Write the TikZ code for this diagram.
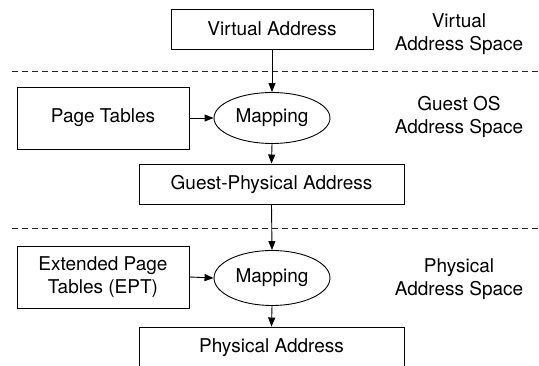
\documentclass[tikz,border=0pt]{standalone}
\usepackage{fontspec}
\setmainfont{TeX Gyre Heros}
\usetikzlibrary{shapes.geometric,arrows.meta}
\begin{document}
\begin{tikzpicture}[x=1pt,y=-1pt,
  txt/.style={font=\fontsize{19}{23}\selectfont},
  box/.style={txt, draw, line width=0.9pt, inner sep=0pt, align=center},
  ell/.style={txt, draw, ellipse, line width=0.9pt, inner sep=0pt, minimum width=116pt},
  lbl/.style={txt, align=center, inner sep=0pt},
  arr/.style={-{Triangle[length=9pt,width=7pt]}, line width=0.9pt},
  sep/.style={dash pattern=on 6pt off 4pt, line width=0.9pt, draw=black!85}]
\useasboundingbox (0,0) rectangle (539,366);
% nodes
\node[box, minimum width=202pt, minimum height=40pt] (va) at (272,29) {Virtual Address};
\node[box, minimum width=172pt, minimum height=62pt] (pt) at (103,118) {Page Tables};
\node[ell, minimum height=51pt] (m1) at (272,118) {Mapping};
\node[box, minimum width=265pt, minimum height=40pt] (gpa) at (271.5,184) {Guest-Physical Address};
\node[box, minimum width=172pt, minimum height=62pt] (ept) at (103,277) {Extended Page\\Tables (EPT)};
\node[ell, minimum height=55pt] (m2) at (272,278) {Mapping};
\node[box, minimum width=265pt, minimum height=42pt] (pa) at (271.5,348) {Physical Address};
% right labels
\node[lbl] (lv) at (459,34) {Virtual\\Address Space};
\node[lbl] (lg) at (459,117) {Guest OS\\Address Space};
\node[lbl] (lp) at (459,279) {Physical\\Address Space};
% separators
\coordinate (d1a) at (12,71);
\coordinate (d1b) at (539,71);
\coordinate (d2a) at (12,228);
\coordinate (d2b) at (539,228);
\draw[sep] (d1a) -- (d1b);
\draw[sep] (d2a) -- (d2b);
% arrows
\draw[arr] (va.south) -- (m1.north);
\draw[arr] (pt.east) -- (m1.west);
\draw[arr] (m1.south) -- (gpa.north);
\draw[arr] (gpa.south) -- (m2.north);
\draw[arr] (ept.east) -- (m2.west);
\draw[arr] (m2.south) -- (pa.north);
\end{tikzpicture}
\end{document}
